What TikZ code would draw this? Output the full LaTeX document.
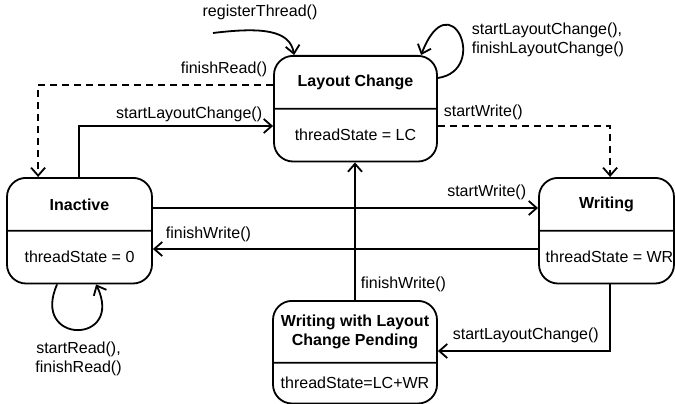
\documentclass[tikz,border=0pt]{standalone}
\usepackage{fontspec}
\setmainfont{Liberation Sans}
\usepackage{tikz}
\usetikzlibrary{shapes.multipart,arrows.meta,calc}
\tikzset{state/.style={rectangle split,rectangle split parts=2,draw,line width=1.8pt,rounded corners=19pt,inner sep=0pt},
  lbl/.style={inner sep=0pt,align=left},
  tr/.style={line width=1.8pt,-{Straight Barb[length=8pt,width=14pt]}},
  dsh/.style={dash pattern=on 7pt off 5pt}}
\newcommand{\cellpart}[3]{\parbox[c][#2][c]{#1}{\centering #3}}

\begin{document}
\begin{tikzpicture}[x=1pt,y=-1pt,font=\fontsize{16}{19.5}\selectfont]
    \useasboundingbox (0,0) rectangle (675,404);

    \node[state,anchor=north] (lc) at (355.5,55) {\cellpart{163pt}{51pt}{\textbf{Layout Change}}\nodepart{two}\cellpart{163pt}{51pt}{threadState = LC}};
    \node[state,anchor=north] (inactive) at (79.5,177) {\cellpart{145pt}{51pt}{\textbf{Inactive}}\nodepart{two}\cellpart{145pt}{51pt}{threadState = 0}};
    \node[state,anchor=north] (writing) at (606.5,177) {\cellpart{135pt}{51pt}{\textbf{Writing}}\nodepart{two}\cellpart{135pt}{51pt}{\hspace*{6pt}threadState = WR}};
    \node[state,anchor=north] (pending) at (355,300) {\cellpart{164pt}{60pt}{\textbf{Writing with Layout}\\\textbf{Change Pending}}\nodepart{two}\cellpart{164pt}{39pt}{threadState=LC+WR}};

    \coordinate (start) at (213,33);

    % registration and self loops
    \draw [tr] (start) .. controls (262,27) and (290,30) .. ($(lc.north west)+(21,0)$) node[lbl,anchor=south] at (260,21) {registerThread()};
    \draw [tr] ($(lc.north east)+(0,23)$) .. controls (490,70) and (450,-20) .. ($(lc.north west)+(148,0)$) node[lbl,anchor=west] at (471,40) {startLayoutChange(),\\finishLayoutChange()};
    \draw [tr] ($(inactive.south west)+(51,0)$) .. controls (30,345) and (125,345) .. ($(inactive.south west)+(90,0)$) node[lbl,anchor=center,align=center] at (78.5,359) {startRead(),\\finishRead()};

    % transitions
    \draw [tr,dsh] ($(lc.north west)+(0,30)$) -| ($(inactive.north west)+(32,0)$) node[lbl,anchor=south east] at (268,78) {finishRead()};
    \draw [tr] ($(inactive.north west)+(73,0)$) |- ($(lc.north west)+(0,71)$) node[lbl,anchor=south east] at (263,123) {startLayoutChange()};
    \draw [tr,dsh] ($(lc.north east)+(0,71)$) -| ($(writing.north west)+(72,0)$) node[lbl,anchor=south west] at (443,121) {startWrite()};
    \draw [tr] ($(inactive.north east)+(0,31)$) -- ($(writing.north west)+(0,31)$) node[lbl,anchor=south east] at (527,201) {startWrite()};
    \draw [tr] ($(writing.north west)+(0,72)$) -- ($(inactive.north east)+(0,72)$) node[lbl,anchor=south west] at (165,243) {finishWrite()};
    \draw [tr] (pending.north) -- (pending.north |- lc.south) node[lbl,anchor=south west] at (360,293) {finishWrite()};
    \draw [tr] ($(writing.south west)+(72,0)$) |- ($(pending.north east)+(0,51)$) node[lbl,anchor=south west] at (452,344) {startLayoutChange()};
\end{tikzpicture}
\end{document}
